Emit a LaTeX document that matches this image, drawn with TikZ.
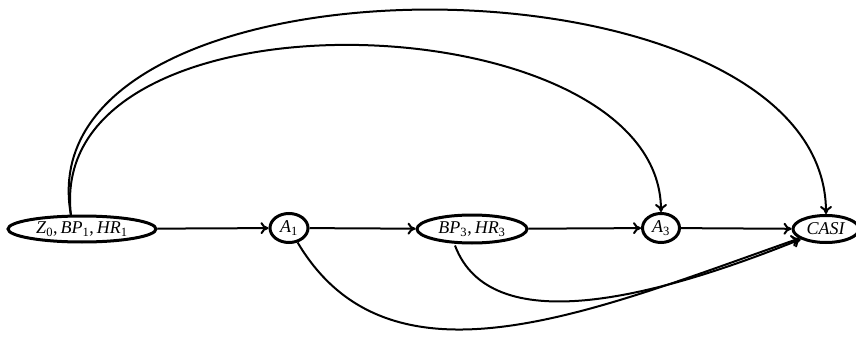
\documentclass[tikz,border=0pt]{standalone}
\usepackage{fontspec}
\setmainfont{Liberation Serif}
\usetikzlibrary{arrows.meta,calc,shapes.geometric}

% italic variable with an upright subscript
\newcommand{\varsub}[2]{\textit{#1}\textsubscript{#2}}

\begin{document}
\begin{tikzpicture}[x=1pt,y=-1pt,
  state/.style={ellipse,draw,line width=3pt,inner sep=0pt,
    font=\fontsize{18}{21}\selectfont},
  link/.style={line width=2pt,-{To[length=8pt,width=12pt]}}]
  \useasboundingbox (0,0) rectangle (856,339);

  \node[state,minimum width=148pt,minimum height=26pt] (z)    at (82,229)  {\varsub{Z}{0},\,\varsub{BP}{1},\,\varsub{HR}{1}};
  \node[state,minimum width=38pt,minimum height=29pt]  (a1)   at (289,228) {\varsub{A}{1}};
  \node[state,minimum width=110pt,minimum height=28pt] (bp)   at (472,229) {\varsub{BP}{3},\,\varsub{HR}{3}};
  \node[state,minimum width=37pt,minimum height=29pt]  (a3)   at (661,228) {\varsub{A}{3}};
  \node[state,minimum width=66pt,minimum height=27pt]  (casi) at (826,229) {\textit{CASI}};

  % chain along the middle row
  \draw[link] (z) -- (a1);
  \draw[link] (a1) -- (bp);
  \draw[link] (bp) -- (a3);
  \draw[link] (a3) -- (casi);

  % long arcs over the top
  \coordinate (zt) at ($(z.north)+(-11,1)$);
  \draw[link] (zt) .. controls (20,-60) and (826,-57) .. (casi.north);
  \draw[link] (zt) .. controls (42,-22) and (661,0) .. (a3.north);

  % arcs under the row
  \coordinate (bpb) at ($(bp.south)+(-17,1)$);
  \draw[link] (a1) .. controls (390,398) and (590,312) .. (casi);
  \draw[link] (bpb) .. controls (490,339) and (650,300) .. (casi);
\end{tikzpicture}
\end{document}
